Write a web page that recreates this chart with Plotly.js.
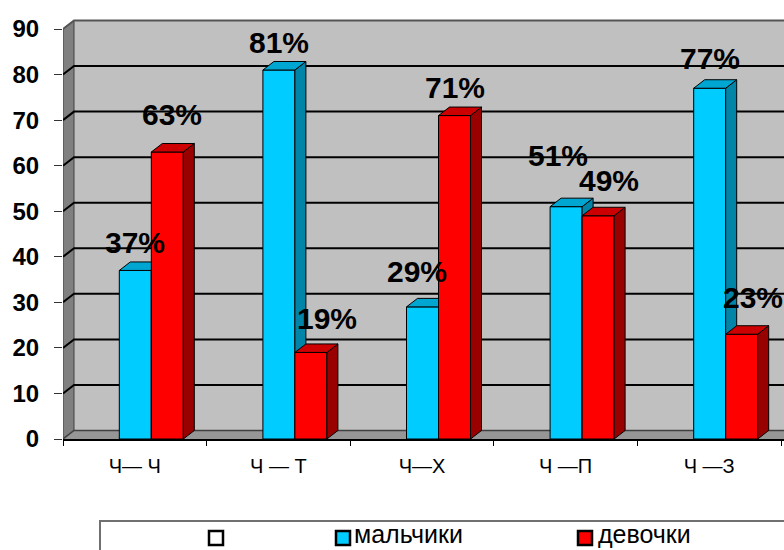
<!DOCTYPE html>
<html><head><meta charset="utf-8">
<script src="https://cdn.plot.ly/plotly-3.0.1.min.js"></script>
<style>html,body{margin:0;padding:0;background:#fff;}#chart{width:784px;height:550px;}</style>
</head><body><div id="chart"></div>
<script>
// ---------- data ----------
const categories = ["Ч— Ч", "Ч — Т", "Ч—Х", "Ч —П", "Ч —З"];
const boys  = [37, 81, 29, 51, 77];
const girls = [63, 19, 71, 49, 23];
const seriesNames = ["", "мальчики", "девочки"];
const yTickValues = [0, 10, 20, 30, 40, 50, 60, 70, 80, 90];

// ---------- geometry (layout only) ----------
const W = 784, H = 550, L = 63, R = 0, T = 19, B = 111;
const PW = W - L - R, PH = H - T - B;
const CAT_PX = 143.6;
const xMin = -0.5, xMax = xMin + PW / CAT_PX;
const yMax = PH * 90 / 410;
const pxX = PW / (xMax - xMin), pxY = PH / yMax;
const DX = 11 / pxX, DY = 8.5 / pxY;          // 3-D depth in data units
const BAR_W = 32 / pxX;
const OFF_B = -15.5 / pxX, OFF_G = 16.5 / pxX;
const FONT = "Arial, 'Liberation Sans', sans-serif";
const LEGEND_FONT = "'Liberation Sans Narrow', 'Arial Narrow', Arial, 'Liberation Sans', sans-serif";
const px2paperX = p => (p - L) / PW;
const px2paperY = p => (T + PH - p) / PH;

// label placement nudges (pixels)
const LIFT_B = [28, 28, 35, 51, 30], DXL_B = [0, 0, -6, -8, 0];
const LIFT_G = [38, 34, 28, 35, 37], DXL_G = [5, 16, 0, 11, 11];

function faces(vals, off) {
  const side = {x: [], y: []}, top = {x: [], y: []};
  vals.forEach((v, i) => {
    const x0 = i + off, x1 = x0 + BAR_W;
    side.x.push(x1, x1 + DX, x1 + DX, x1, x1, null);
    side.y.push(0, DY, v + DY, v, 0, null);
    top.x.push(x0, x1, x1 + DX, x0 + DX, x0, null);
    top.y.push(v, v, v + DY, v + DY, v, null);
  });
  return {side, top};
}
const idx = categories.map((c, i) => i);
const fb = faces(boys, OFF_B), fg = faces(girls, OFF_G);
const poly = (p, color, xa, ya) => ({type: 'scatter', mode: 'lines', x: p.x, y: p.y, fill: 'toself',
  fillcolor: color, line: {color: '#000', width: 1}, xaxis: xa, yaxis: ya, hoverinfo: 'skip', showlegend: false});

const traces = [
  {type: 'bar', x: idx, y: boys, width: BAR_W, offset: OFF_B, name: seriesNames[1],
   marker: {color: '#00CCFF', line: {color: '#000', width: 1}}, xaxis: 'x', yaxis: 'y', hoverinfo: 'skip', showlegend: false},
  poly(fb.side, '#0085A8', 'x', 'y'),
  poly(fb.top, '#00A6D2', 'x', 'y'),
  {type: 'bar', x: idx, y: girls, width: BAR_W, offset: OFF_G, name: seriesNames[2],
   marker: {color: '#FF0000', line: {color: '#000', width: 1}}, xaxis: 'x2', yaxis: 'y2', hoverinfo: 'skip', showlegend: false},
  poly(fg.side, '#990000', 'x2', 'y2'),
  poly(fg.top, '#CC0000', 'x2', 'y2')
];

// ---------- shapes: walls, floor, gridlines ----------
const shapes = [];
shapes.push({type: 'rect', xref: 'x', yref: 'y', layer: 'below', x0: xMin + DX, x1: xMax + 1, y0: DY, y1: 90 + DY,
  fillcolor: '#C0C0C0', line: {width: 0}});
shapes.push({type: 'path', xref: 'x', yref: 'y', layer: 'below',
  path: `M${xMin},0 L${xMin},90 L${xMin + DX},${90 + DY} L${xMin + DX},${DY} Z`,
  fillcolor: '#808080', line: {color: '#404040', width: 1}});
shapes.push({type: 'path', xref: 'x', yref: 'y', layer: 'below',
  path: `M${xMin},0 L${xMin + DX},${DY} L${xMax + 1},${DY} L${xMax + 1},0 Z`,
  fillcolor: '#969696', line: {width: 0}});
yTickValues.forEach(t => {
  shapes.push({type: 'path', xref: 'x', yref: 'y', layer: 'below',
    path: `M${xMin},${t} L${xMin + DX},${t + DY} L${xMax + 1},${t + DY}`,
    line: {color: t === 90 ? '#555' : (t === 0 ? '#404040' : '#000'), width: t === 0 ? 1.5 : 2}});
});

// ---------- legend (drawn) ----------
shapes.push({type: 'rect', xref: 'paper', yref: 'paper', x0: px2paperX(100), x1: px2paperX(810),
  y0: px2paperY(521), y1: px2paperY(580), fillcolor: '#fff', line: {color: '#707070', width: 2}});
const legendColors = ['#FFFFFF', '#00CCFF', '#FF0000'];
const legendSquareX = [209, 336, 578];
const legendTextX = [0, 353, 597];
const annotations = [];
legendColors.forEach((c, k) => {
  shapes.push({type: 'rect', xref: 'paper', yref: 'paper', x0: px2paperX(legendSquareX[k]), x1: px2paperX(legendSquareX[k] + 14),
    y0: px2paperY(531), y1: px2paperY(545), fillcolor: c, line: {color: '#000', width: 2.5}});
  if (seriesNames[k]) {
    annotations.push({xref: 'paper', yref: 'paper', x: px2paperX(legendTextX[k]), y: px2paperY(534),
      xanchor: 'left', yanchor: 'middle', showarrow: false, text: seriesNames[k], borderpad: 0,
      font: {family: LEGEND_FONT, size: 25, color: '#000'}});
  }
});

// ---------- data labels ----------
boys.forEach((v, i) => annotations.push({xref: 'x', yref: 'y', x: i + OFF_B + BAR_W / 2, y: v,
  xanchor: 'center', yanchor: 'middle', showarrow: false, text: v + '%', xshift: DXL_B[i], yshift: LIFT_B[i],
  font: {family: FONT, size: 30, weight: 'bold', color: '#000'}}));
girls.forEach((v, i) => annotations.push({xref: 'x', yref: 'y', x: i + OFF_G + BAR_W / 2, y: v,
  xanchor: 'center', yanchor: 'middle', showarrow: false, text: v + '%', xshift: DXL_G[i], yshift: LIFT_G[i],
  font: {family: FONT, size: 30, weight: 'bold', color: '#000'}}));

const boundaries = categories.map((c, i) => i - 0.5).concat([categories.length - 0.5]);

const layout = {
  width: W, height: H, margin: {l: L, r: R, t: T, b: B, pad: 0},
  paper_bgcolor: '#fff', plot_bgcolor: 'rgba(0,0,0,0)', showlegend: false, barmode: 'overlay',
  xaxis: {range: [xMin, xMax], tickmode: 'array', tickvals: idx, ticktext: categories, ticks: '',
    showgrid: false, zeroline: false, showline: true, linecolor: '#000', linewidth: 2,
    tickfont: {family: FONT, size: 20, color: '#000'}, ticklabelstandoff: 8, fixedrange: true},
  xaxis2: {range: [xMin, xMax], overlaying: 'x', anchor: 'y2', tickmode: 'array', tickvals: boundaries,
    ticks: 'outside', ticklen: 6, tickcolor: '#000', tickwidth: 1, showticklabels: false,
    showgrid: false, zeroline: false, showline: false, fixedrange: true},
  yaxis: {range: [0, yMax], tickmode: 'array', tickvals: yTickValues, ticks: 'outside', ticklen: 8,
    tickcolor: '#333', tickwidth: 1, showgrid: false, zeroline: false, showline: false,
    tickfont: {family: FONT, size: 24, weight: 'bold', color: '#000'}, ticklabelstandoff: 10, fixedrange: true},
  yaxis2: {range: [0, yMax], overlaying: 'y', anchor: 'x2', visible: false, fixedrange: true},
  shapes: shapes, annotations: annotations
};
Plotly.newPlot('chart', traces, layout, {staticPlot: true, displayModeBar: false});
</script></body></html>
